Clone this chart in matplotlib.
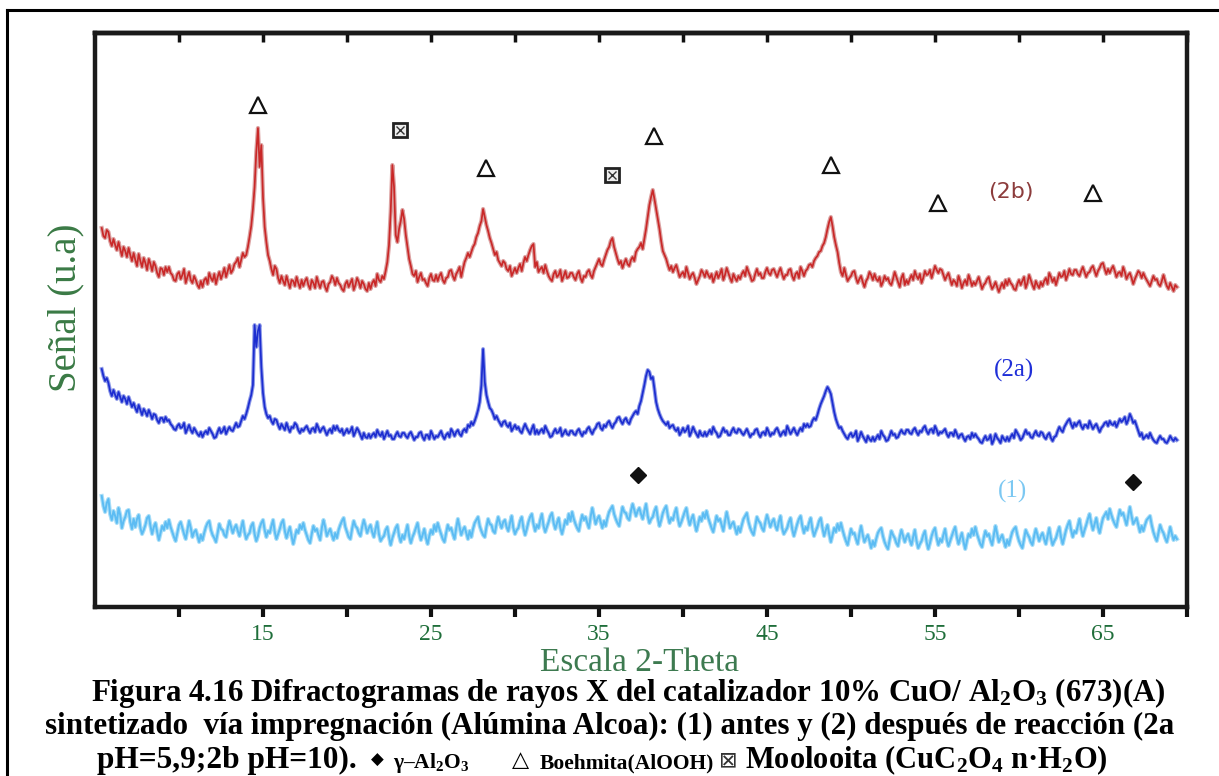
import numpy as np
import matplotlib
matplotlib.use("Agg")
import matplotlib.pyplot as plt
from matplotlib.lines import Line2D

plt.rcParams['mathtext.fontset'] = 'custom'
plt.rcParams['mathtext.rm'] = 'Liberation Serif:bold'
plt.rcParams['mathtext.it'] = 'Liberation Serif:bold'
plt.rcParams['mathtext.bf'] = 'Liberation Serif:bold'

# 2-theta sampling (degrees), 0.1 deg step
two_theta = np.round(np.arange(5.4, 69.45, 0.1), 1)

# Pattern (2b): after reaction, pH=10 (one row = 2 degrees)
signal_2b = np.array([
    379, 371, 369, 377, 375, 366, 361, 368, 362, 357, 365, 358, 351, 360, 356, 350, 359, 352, 346, 354,
    347, 341, 353, 346, 340, 349, 344, 337, 348, 343, 336, 345, 341, 334, 330, 339, 338, 332, 340, 335,
    340, 334, 332, 327, 326, 333, 335, 328, 332, 338, 324, 330, 335, 327, 324, 331, 327, 322, 319, 326,
    320, 327, 329, 323, 334, 329, 326, 333, 323, 330, 335, 328, 333, 339, 330, 336, 342, 334, 337, 343,
    345, 349, 340, 347, 354, 350, 352, 360, 370, 381, 398, 420, 455, 479, 440, 462, 410, 380, 365, 352,
    346, 338, 332, 341, 338, 329, 324, 331, 326, 322, 331, 325, 319, 327, 326, 321, 330, 324, 319, 327,
    321, 326, 329, 322, 318, 327, 324, 319, 330, 324, 319, 325, 326, 320, 316, 323, 325, 331, 328, 322,
    329, 324, 322, 318, 316, 323, 326, 320, 324, 328, 317, 322, 329, 325, 319, 326, 323, 318, 316, 324,
    318, 324, 327, 321, 333, 327, 325, 331, 328, 336, 345, 362, 395, 442, 420, 372, 365, 378, 386, 397,
    388, 372, 360, 348, 341, 333, 331, 336, 325, 330, 334, 327, 328, 324, 321, 329, 333, 327, 326, 332,
    326, 331, 334, 327, 324, 329, 330, 336, 337, 331, 327, 333, 336, 340, 330, 338, 345, 349, 354, 350,
    355, 360, 363, 370, 374, 381, 386, 398, 390, 382, 376, 369, 364, 358, 352, 355, 347, 344, 341, 346,
    344, 338, 336, 341, 331, 335, 339, 334, 339, 343, 336, 344, 350, 346, 352, 357, 361, 363, 340, 345,
    335, 338, 340, 334, 342, 336, 331, 328, 326, 333, 336, 330, 332, 337, 326, 331, 336, 329, 330, 334,
    334, 330, 327, 333, 336, 329, 325, 331, 330, 335, 337, 332, 329, 336, 340, 344, 348, 343, 341, 347,
    352, 357, 360, 366, 369, 360, 354, 348, 343, 346, 339, 344, 348, 343, 341, 347, 350, 346, 355, 358,
    360, 364, 358, 368, 378, 390, 402, 410, 417, 408, 398, 388, 378, 366, 356, 352, 348, 342, 337, 341,
    335, 339, 342, 336, 330, 333, 335, 330, 340, 334, 328, 332, 334, 329, 323, 327, 331, 337, 334, 330,
    336, 332, 329, 333, 325, 330, 335, 329, 333, 338, 327, 332, 339, 334, 329, 325, 333, 329, 326, 331,
    328, 333, 336, 331, 340, 335, 331, 326, 327, 333, 338, 332, 334, 329, 329, 335, 339, 334, 332, 337,
    338, 334, 330, 335, 339, 333, 328, 332, 332, 337, 338, 331, 327, 333, 335, 329, 340, 336, 331, 336,
    338, 342, 343, 340, 346, 349, 351, 355, 356, 361, 364, 370, 378, 385, 390, 381, 370, 362, 355, 344,
    335, 331, 339, 332, 326, 329, 331, 335, 336, 329, 324, 328, 331, 325, 320, 326, 329, 335, 332, 327,
    333, 328, 326, 330, 321, 325, 331, 327, 329, 324, 322, 328, 335, 330, 325, 320, 329, 333, 322, 327,
    323, 328, 332, 327, 336, 331, 328, 333, 324, 329, 336, 332, 333, 337, 329, 335, 341, 337, 334, 338,
    337, 332, 327, 331, 334, 328, 322, 327, 325, 321, 331, 326, 319, 324, 327, 322, 332, 327, 321, 325,
    322, 326, 330, 324, 318, 322, 324, 328, 330, 323, 318, 321, 325, 320, 315, 320, 324, 319, 327, 322,
    328, 324, 322, 318, 317, 323, 327, 322, 326, 330, 319, 324, 332, 327, 322, 318, 326, 322, 319, 325,
    321, 326, 329, 323, 334, 330, 325, 329, 322, 328, 334, 330, 331, 336, 327, 332, 338, 333, 332, 337,
    337, 333, 331, 336, 340, 335, 330, 334, 335, 339, 341, 336, 331, 336, 339, 343, 344, 338, 333, 338,
    334, 338, 341, 336, 330, 334, 335, 331, 340, 335, 328, 332, 334, 329, 323, 328, 332, 336, 334, 329,
    334, 330, 327, 324, 321, 326, 331, 327, 328, 323, 321, 326, 332, 326, 321, 318, 324, 320, 316, 322,
    320])

# Pattern (2a): after reaction, pH=5,9
signal_2a = np.array([
    238, 231, 226, 229, 224, 216, 211, 217, 212, 208, 215, 210, 205, 211, 208, 203, 210, 205, 200, 204,
    199, 195, 202, 197, 192, 198, 195, 191, 197, 193, 188, 193, 192, 187, 184, 189, 189, 185, 190, 186,
    187, 183, 181, 178, 177, 181, 183, 179, 180, 184, 174, 178, 182, 177, 174, 179, 176, 173, 171, 175,
    170, 174, 176, 173, 179, 176, 173, 169, 170, 175, 179, 174, 176, 180, 173, 177, 180, 177, 176, 180,
    184, 180, 181, 186, 191, 188, 193, 199, 206, 212, 222, 282, 260, 276, 282, 240, 214, 200, 193, 189,
    191, 186, 183, 188, 187, 182, 178, 183, 180, 177, 184, 179, 175, 180, 179, 184, 182, 177, 174, 178,
    176, 179, 181, 177, 174, 178, 179, 175, 183, 179, 175, 178, 180, 176, 172, 176, 178, 174, 181, 177,
    181, 177, 175, 178, 172, 175, 178, 174, 176, 180, 171, 175, 179, 176, 172, 168, 174, 170, 169, 173,
    169, 172, 174, 170, 177, 173, 171, 175, 168, 172, 176, 171, 172, 168, 168, 172, 175, 171, 170, 174,
    174, 171, 169, 173, 175, 171, 167, 170, 170, 174, 175, 170, 167, 172, 172, 168, 176, 172, 168, 171,
    170, 173, 176, 171, 168, 172, 174, 170, 178, 175, 171, 175, 177, 173, 171, 176, 178, 175, 182, 180,
    185, 182, 186, 191, 197, 205, 222, 258, 225, 212, 205, 199, 197, 193, 188, 191, 187, 184, 181, 185,
    186, 182, 180, 184, 176, 179, 182, 178, 180, 176, 174, 179, 183, 179, 176, 173, 178, 182, 173, 177,
    173, 176, 178, 174, 181, 177, 174, 170, 171, 175, 178, 174, 175, 179, 171, 174, 177, 173, 172, 176,
    176, 173, 172, 176, 178, 174, 171, 175, 174, 178, 180, 176, 173, 177, 179, 183, 184, 179, 177, 182,
    180, 184, 186, 182, 179, 183, 185, 189, 190, 186, 183, 187, 189, 185, 183, 188, 191, 194, 196, 193,
    201, 206, 214, 222, 231, 237, 235, 228, 230, 218, 205, 198, 193, 189, 186, 184, 182, 185, 179, 181,
    182, 178, 176, 179, 172, 175, 179, 175, 177, 181, 171, 175, 180, 176, 173, 170, 176, 172, 171, 175,
    171, 174, 177, 173, 180, 176, 174, 170, 171, 175, 179, 175, 176, 172, 172, 176, 179, 175, 174, 178,
    177, 174, 172, 175, 178, 174, 170, 173, 173, 177, 178, 173, 170, 174, 175, 172, 179, 175, 171, 174,
    173, 177, 179, 175, 171, 174, 176, 172, 181, 177, 173, 176, 179, 175, 172, 176, 179, 176, 183, 180,
    183, 180, 181, 186, 189, 187, 192, 198, 203, 207, 211, 216, 220, 217, 213, 204, 195, 188, 183, 179,
    180, 176, 173, 170, 168, 172, 174, 170, 172, 176, 166, 170, 175, 171, 168, 165, 171, 168, 166, 170,
    166, 169, 172, 168, 176, 172, 170, 166, 167, 171, 176, 172, 173, 169, 170, 174, 177, 174, 173, 177,
    177, 174, 173, 177, 179, 175, 172, 176, 175, 179, 181, 176, 173, 177, 178, 174, 181, 177, 172, 175,
    174, 176, 178, 173, 170, 174, 174, 171, 177, 173, 169, 172, 173, 169, 166, 170, 171, 168, 174, 170,
    173, 170, 168, 165, 164, 168, 171, 167, 168, 172, 163, 167, 173, 169, 167, 164, 171, 168, 166, 170,
    166, 170, 173, 169, 177, 174, 171, 167, 169, 173, 177, 173, 174, 170, 169, 173, 176, 172, 171, 175,
    174, 170, 168, 172, 174, 169, 166, 170, 171, 176, 180, 177, 175, 180, 183, 186, 188, 183, 179, 184,
    181, 184, 186, 181, 178, 182, 182, 179, 186, 182, 178, 181, 183, 179, 175, 179, 181, 184, 185, 181,
    186, 183, 182, 185, 180, 184, 188, 185, 187, 190, 183, 187, 193, 189, 184, 186, 181, 176, 171, 174,
    168, 170, 172, 169, 174, 170, 167, 165, 164, 168, 171, 168, 168, 165, 164, 167, 171, 168, 166, 169,
    167])

# Pattern (1): before reaction
signal_1 = np.array([
    111, 101, 95, 104, 108, 93, 87, 96, 91, 84, 99, 92, 79, 86, 90, 96, 97, 85, 78, 88,
    80, 88, 92, 79, 73, 77, 82, 89, 91, 81, 73, 80, 84, 75, 67, 74, 81, 77, 85, 79,
    87, 80, 75, 70, 66, 74, 82, 85, 79, 73, 68, 77, 86, 79, 70, 75, 77, 71, 65, 72,
    67, 74, 80, 84, 86, 77, 72, 69, 65, 74, 83, 78, 77, 72, 70, 79, 86, 80, 74, 79,
    82, 76, 71, 79, 86, 75, 68, 72, 74, 81, 84, 73, 66, 71, 79, 84, 87, 77, 70, 76,
    74, 81, 87, 75, 68, 73, 78, 84, 87, 76, 69, 75, 80, 71, 63, 70, 77, 74, 82, 78,
    84, 77, 72, 67, 64, 73, 81, 76, 78, 72, 67, 79, 87, 80, 71, 75, 78, 72, 67, 74,
    69, 77, 82, 86, 89, 80, 75, 70, 68, 78, 86, 81, 79, 74, 71, 80, 87, 81, 74, 79,
    82, 75, 70, 78, 85, 73, 66, 69, 71, 77, 80, 70, 62, 69, 74, 79, 82, 71, 65, 72,
    68, 75, 82, 71, 64, 70, 74, 79, 84, 74, 67, 72, 78, 69, 63, 71, 77, 73, 82, 76,
    84, 78, 73, 68, 65, 74, 82, 77, 79, 73, 68, 79, 88, 80, 72, 77, 80, 74, 68, 76,
    70, 78, 84, 87, 90, 81, 76, 72, 70, 80, 88, 83, 82, 76, 74, 83, 90, 84, 79, 85,
    87, 80, 76, 84, 91, 79, 73, 77, 79, 86, 90, 79, 72, 78, 85, 90, 93, 83, 76, 82,
    79, 87, 93, 81, 75, 80, 85, 91, 94, 84, 78, 84, 89, 79, 73, 80, 87, 83, 93, 86,
    95, 88, 83, 79, 76, 85, 92, 87, 90, 84, 79, 90, 99, 91, 83, 88, 91, 85, 79, 86,
    81, 89, 95, 98, 101, 93, 88, 84, 81, 91, 100, 95, 94, 89, 87, 96, 103, 97, 91, 96,
    99, 93, 88, 96, 103, 91, 84, 88, 90, 96, 100, 89, 81, 87, 94, 98, 101, 91, 84, 89,
    87, 94, 99, 88, 81, 85, 90, 95, 99, 89, 82, 88, 92, 83, 76, 83, 90, 86, 94, 89,
    96, 89, 84, 79, 75, 83, 91, 86, 88, 82, 76, 86, 95, 87, 79, 83, 85, 79, 73, 80,
    75, 82, 88, 91, 94, 85, 79, 75, 72, 81, 90, 86, 84, 79, 76, 85, 92, 86, 80, 85,
    88, 81, 77, 85, 91, 79, 73, 76, 79, 85, 89, 78, 71, 77, 83, 88, 91, 81, 74, 80,
    77, 84, 89, 78, 71, 76, 80, 86, 89, 79, 71, 77, 82, 73, 65, 72, 79, 75, 83, 77,
    84, 77, 71, 66, 62, 70, 78, 73, 74, 68, 63, 73, 81, 72, 65, 69, 72, 66, 59, 66,
    61, 68, 74, 77, 79, 71, 65, 61, 58, 67, 76, 72, 69, 64, 61, 70, 77, 71, 65, 70,
    73, 67, 62, 70, 77, 66, 59, 63, 66, 72, 76, 65, 58, 64, 71, 76, 79, 69, 62, 68,
    65, 72, 78, 67, 61, 66, 71, 76, 80, 70, 63, 69, 74, 65, 58, 66, 73, 70, 78, 72,
    80, 73, 68, 63, 60, 69, 76, 71, 73, 67, 62, 72, 81, 73, 65, 69, 72, 66, 60, 67,
    62, 69, 75, 78, 80, 72, 66, 62, 59, 68, 77, 73, 70, 65, 62, 71, 78, 72, 66, 71,
    74, 68, 63, 71, 79, 69, 62, 66, 69, 75, 80, 70, 63, 70, 77, 82, 86, 77, 70, 76,
    74, 81, 88, 78, 71, 77, 82, 88, 93, 84, 77, 83, 89, 80, 74, 82, 89, 92, 95, 88,
    98, 92, 87, 83, 80, 89, 97, 92, 94, 88, 82, 91, 100, 91, 83, 86, 89, 82, 75, 81,
    76, 82, 87, 89, 91, 82, 75, 70, 66, 74, 82, 77, 74, 69, 65, 72, 80, 73, 67, 71,
    68])

# Phase markers (2-theta, height)
boehmite_x = [14.7, 28.3, 38.3, 48.8, 55.2, 64.4]
boehmite_y = [502, 439, 471, 442, 404, 414]
moolooite_x = [23.15, 35.8]
moolooite_y = [477, 432]
gamma_x = [37.3, 66.8]
gamma_y = [132, 125]

W, H = 1219, 776
fig = plt.figure(figsize=(W / 100, H / 100), dpi=100)
ax = fig.add_axes([95 / W, 1 - 607 / H, (1187 - 95) / W, (607 - 33) / H])

serif = 'Liberation Serif'
green_tick = '#1f6e3a'

# traces: soft halo under a thinner core line
ax.plot(two_theta, signal_2b, color='#dca2a2', lw=3.0)
ax.plot(two_theta, signal_2b, color='#c92828', lw=1.25)
ax.plot(two_theta, signal_2a, color='#8c98e8', lw=2.8)
ax.plot(two_theta, signal_2a, color='#1c2dd0', lw=1.25)
ax.plot(two_theta, signal_1, color='#a8def8', lw=3.0)
ax.plot(two_theta, signal_1, color='#5cbcf3', lw=1.4)

ax.plot(boehmite_x, boehmite_y, ls='none', marker='^', ms=11,
        mfc='white', mec='#111111', mew=1.6)
ax.plot(moolooite_x, moolooite_y, ls='none', marker='s', ms=10,
        mfc='#eeeeee', mec='#222222', mew=2.0)
ax.plot(moolooite_x, moolooite_y, ls='none', marker='x', ms=6,
        mec='#333333', mew=1.0)
ax.plot(gamma_x, gamma_y, ls='none', marker='D', ms=8, color='#111111')

ax.text(59.5, 415, '(2b)', color='#8c3c3c', fontsize=16, family='DejaVu Sans',
        ha='center', va='center')
ax.text(59.7, 237, '(2a)', color='#1f2fd8', fontsize=18, family=serif,
        ha='center', va='center')
ax.text(59.6, 116, '(1)', color='#7cc8f2', fontsize=18, family=serif,
        ha='center', va='center')

ax.set_xlim(5, 70)
ax.set_ylim(0, 574)
ax.set_yticks([])
major = [15, 25, 35, 45, 55, 65]
minor = [10, 20, 30, 40, 50, 60, 70]
ax.set_xticks(major)
ax.set_xticks(minor, minor=True)
ax.set_xticklabels([str(v) for v in major], family=serif, fontsize=17,
                   color=green_tick)
ax.tick_params(axis='x', which='both', direction='out', length=7, width=3,
               color='#111111', pad=5.5)
for s in ax.spines.values():
    s.set_linewidth(3.2)
    s.set_color('#1a1a1a')

top = ax.secondary_xaxis('top')
top.set_xticks(major)
top.set_xticks(minor, minor=True)
top.tick_params(axis='x', which='both', direction='in', length=6.5, width=2.5,
                color='#111111', labeltop=False)
top.spines['top'].set_linewidth(3.2)

fig.text(640 / W, 1 - 671 / H, 'Escala 2-Theta', ha='center', va='baseline',
         family=serif, fontsize=24, color='#3d7a50')
fig.text(66 / W, 1 - 308 / H, 'Señal (u.a)', rotation=90, ha='center',
         va='center', family=serif, fontsize=28, color='#3a7a45')

# caption
cap = dict(family=serif, fontweight='bold', color='black', va='baseline')
fig.text(628 / W, 1 - 701 / H,
         'Figura 4.16 Difractogramas de rayos X del catalizador 10% CuO/ '
         'Al$_2$O$_3$ (673)(A)', ha='center', fontsize=22.3, **cap)
fig.text(610 / W, 1 - 734 / H,
         'sintetizado  vía impregnación (Alúmina Alcoa): (1) antes y (2) '
         'después de reacción (2a', ha='center', fontsize=22.3, **cap)
fig.text(97 / W, 1 - 768 / H, 'pH=5,9;2b pH=10).', ha='left', fontsize=22.6,
         **cap)
fig.text(377 / W, 1 - 765 / H, '◆', ha='center', va='baseline',
         family='DejaVu Sans', fontsize=12, color='black')
fig.text(393 / W, 1 - 768 / H, 'γ–Al$_2$O$_3$', ha='left', fontsize=15.5, **cap)
fig.text(520 / W, 1 - 766 / H, '△', ha='center', va='baseline',
         family='DejaVu Sans', fontsize=16, color='black')
fig.text(540 / W, 1 - 768 / H, 'Boehmita(AlOOH)', ha='left', fontsize=15.5,
         **cap)
fig.text(728 / W, 1 - 766 / H, '⊠', ha='center', va='baseline',
         family='DejaVu Sans', fontsize=16, color='#333333')
fig.text(745 / W, 1 - 768 / H, 'Moolooita (CuC$_2$O$_4$ n·H$_2$O)', ha='left',
         fontsize=22, **cap)

# outer frame (left and top edges)
fig.add_artist(Line2D([7 / W, 7 / W], [0, 1 - 10 / H], transform=fig.transFigure,
                      color='black', lw=2.2))
fig.add_artist(Line2D([7 / W, 1], [1 - 10 / H, 1 - 10 / H],
                      transform=fig.transFigure, color='black', lw=2.2))

fig.savefig('out.png', dpi=100)
